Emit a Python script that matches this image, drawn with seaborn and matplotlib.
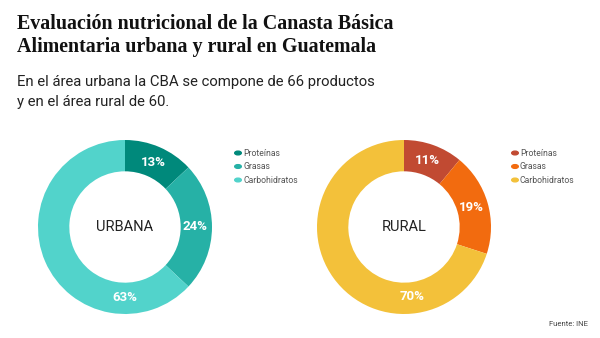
import matplotlib
matplotlib.use("Agg")
import matplotlib.pyplot as plt
import seaborn as sns
import numpy as np

categories = ["Proteínas", "Grasas", "Carbohidratos"]
urbana_values = [13, 24, 63]
rural_values = [11, 19, 70]
urbana_colors = ["#00897b", "#26b1a6", "#52d3cb"]
rural_colors = ["#c14a32", "#f26b0f", "#f3c13a"]
# label angle (degrees) for the big last slice, as placed in the original
urbana_last_label_angle = -90
rural_last_label_angle = -83

sns.set_theme(style="white")
plt.rcParams["font.family"] = ["Roboto", "DejaVu Sans"]

W, H = 600, 338
fig = plt.figure(figsize=(6, 3.38), dpi=100)
fig.patch.set_facecolor("white")

def px(x, y):
    return x / W, 1 - y / H

tfont = ["Liberation Serif", "DejaVu Serif"]
fig.text(*px(17, 24), "Evaluación nutricional de la Canasta Básica", fontsize=14.4,
         fontweight="bold", family=tfont, color="#111111", va="center")
fig.text(*px(17, 47), "Alimentaria urbana y rural en Guatemala", fontsize=14.4,
         fontweight="bold", family=tfont, color="#111111", va="center")
fig.text(*px(17, 82), "En el área urbana la CBA se compone de 66 productos", fontsize=10.75,
         color="#222222", va="center")
fig.text(*px(17, 102), "y en el área rural de 60.", fontsize=10.75,
         color="#222222", va="center")
fig.text(*px(588, 324), "Fuente: INE", fontsize=5.5, color="#444444", ha="right", va="center")

def donut(cx, cy, r, values, colors, center_label, legend_x, last_angle):
    ax = fig.add_axes([(cx - r) / W, 1 - (cy + r) / H, 2 * r / W, 2 * r / H])
    wedges, _ = ax.pie(values, colors=colors, startangle=90, counterclock=False,
                       radius=1, wedgeprops=dict(width=0.36, edgecolor="none"))
    for i, (w, v) in enumerate(zip(wedges, values)):
        ang = (w.theta1 + w.theta2) / 2 if i < len(values) - 1 else last_angle
        rr = 0.81
        ax.text(rr * np.cos(np.radians(ang)), rr * np.sin(np.radians(ang)), f"{v}%",
                ha="center", va="center", color="white", fontsize=9.5, fontweight="bold")
    ax.text(0, 0, center_label, ha="center", va="center", fontsize=10.5, color="#222222")
    ax.set_xlim(-1, 1)
    ax.set_ylim(-1, 1)
    ax.axis("off")
    for i, (cat, col) in enumerate(zip(categories, colors)):
        y = 153 + i * 13.5
        fig.patches.append(matplotlib.patches.Circle((legend_x / W, 1 - y / H), 0.0055,
                                                     transform=fig.transFigure, color=col,
                                                     figure=fig))
        fig.text((legend_x + 5) / W, 1 - y / H, cat, fontsize=6.2, color="#555555", va="center")

donut(125, 227, 87, urbana_values, urbana_colors, "URBANA", 238, urbana_last_label_angle)
donut(404, 227, 87, rural_values, rural_colors, "RURAL", 515, rural_last_label_angle)

fig.savefig("out.png", dpi=100, facecolor="white")
